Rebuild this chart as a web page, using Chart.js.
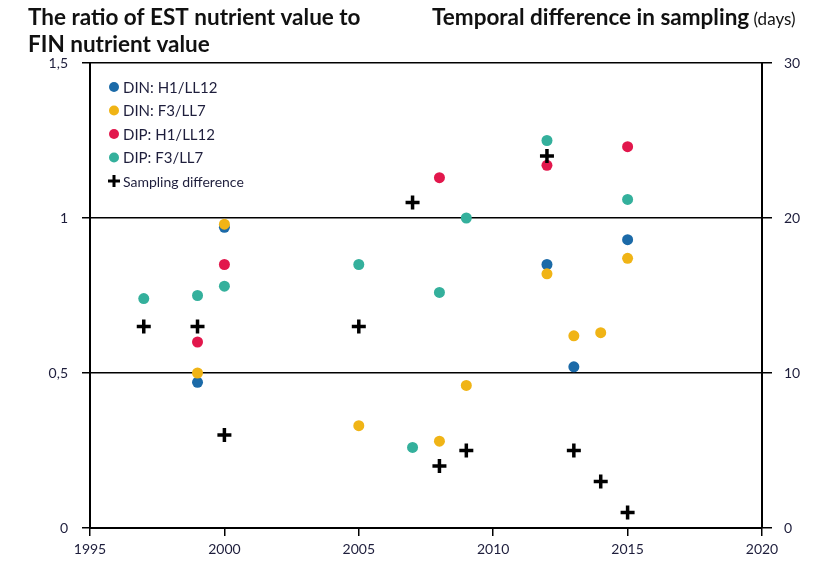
<!DOCTYPE html>
<html>
<head>
<meta charset="utf-8">
<script src="https://cdn.jsdelivr.net/npm/chart.js@4.4.1/dist/chart.umd.min.js"></script>
<style>
  html, body { margin: 0; padding: 0; background: #fff; }
  #wrap { width: 815px; height: 565px; }
</style>
</head>
<body>
<div id="wrap"><canvas id="c" width="815" height="565"></canvas></div>
<script>
// Ratio of EST to FIN nutrient values by year (left axis)
const dinH1Years = [1999, 2000, 2012, 2013, 2015];
const dinH1 = [0.47, 0.97, 0.85, 0.52, 0.93];

const dinF3Years = [1999, 2000, 2005, 2008, 2009, 2012, 2013, 2014, 2015];
const dinF3 = [0.50, 0.98, 0.33, 0.28, 0.46, 0.82, 0.62, 0.63, 0.87];

const dipH1Years = [1999, 2000, 2008, 2012, 2015];
const dipH1 = [0.60, 0.85, 1.13, 1.17, 1.23];

const dipF3Years = [1997, 1999, 2000, 2005, 2007, 2008, 2009, 2012, 2015];
const dipF3 = [0.74, 0.75, 0.78, 0.85, 0.26, 0.76, 1.00, 1.25, 1.06];

// Temporal difference in sampling, days (right axis)
const samplingYears = [1997, 1999, 2000, 2005, 2007, 2008, 2009, 2012, 2013, 2014, 2015];
const samplingDays = [13, 13, 6, 13, 21, 4, 5, 24, 5, 3, 1];

const seriesLabels = ['DIN: H1/LL12', 'DIN: F3/LL7', 'DIP: H1/LL12', 'DIP: F3/LL7', 'Sampling difference'];
const leftTitle = ['The ratio of EST nutrient value to', 'FIN nutrient value'];
const rightTitle = 'Temporal difference in sampling';
const rightUnit = ' (days)';

const FONT = "Lato, 'Open Sans', sans-serif";
const INK = '#1e1e3c';

const pts = (xs, ys) => xs.map((x, i) => ({ x: x, y: ys[i] }));

function dotSet(label, xs, ys, color, order) {
  return {
    label: label,
    data: pts(xs, ys),
    yAxisID: 'y',
    pointStyle: 'circle',
    pointRadius: 5.5,
    pointHoverRadius: 5.5,
    backgroundColor: color,
    borderColor: color,
    borderWidth: 0,
    order: order
  };
}

const datasets = [
  dotSet(seriesLabels[0], dinH1Years, dinH1, '#1b6aa8', 2),
  dotSet(seriesLabels[1], dinF3Years, dinF3, '#f0b416', 1),
  dotSet(seriesLabels[2], dipH1Years, dipH1, '#e2174c', 3),
  dotSet(seriesLabels[3], dipF3Years, dipF3, '#34b09c', 4),
  {
    label: seriesLabels[4],
    data: pts(samplingYears, samplingDays),
    yAxisID: 'y1',
    pointStyle: 'cross',
    pointRadius: 7,
    pointHoverRadius: 7,
    borderColor: '#000',
    backgroundColor: '#000',
    borderWidth: 3.5,
    order: 0
  }
];

// Headings above the plot
const titlesPlugin = {
  id: 'titles',
  afterDraw(chart) {
    const ctx = chart.ctx;
    ctx.save();
    ctx.fillStyle = '#111';
    ctx.textBaseline = 'alphabetic';
    ctx.textAlign = 'left';
    ctx.font = `bold 22.5px ${FONT}`;
    ctx.fillText(leftTitle[0], 28, 25);
    ctx.fillText(leftTitle[1], 28, 52);
    ctx.fillText(rightTitle, 432, 25);
    const w = ctx.measureText(rightTitle).width;
    ctx.font = `17px ${FONT}`;
    ctx.fillText(rightUnit, 432 + w, 25);
    ctx.restore();
  }
};

// Legend box drawn inside the upper-left of the plot
const innerLegend = {
  id: 'innerLegend',
  afterDraw(chart) {
    const ctx = chart.ctx;
    const x0 = 114, y0 = 87, dy = 23.5;
    ctx.save();
    chart.data.datasets.forEach((ds, i) => {
      const y = y0 + i * dy;
      if (ds.pointStyle === 'cross') {
        ctx.strokeStyle = '#000';
        ctx.lineWidth = 3;
        ctx.beginPath();
        ctx.moveTo(x0 - 6, y); ctx.lineTo(x0 + 6, y);
        ctx.moveTo(x0, y - 6); ctx.lineTo(x0, y + 6);
        ctx.stroke();
        ctx.font = `14px ${FONT}`;
      } else {
        ctx.fillStyle = ds.backgroundColor;
        ctx.beginPath();
        ctx.arc(x0, y, 5, 0, Math.PI * 2);
        ctx.fill();
        ctx.font = `15px ${FONT}`;
      }
      ctx.fillStyle = INK;
      ctx.textBaseline = 'middle';
      ctx.textAlign = 'left';
      ctx.fillText(ds.label, x0 + 9, y + 1);
    });
    ctx.restore();
  }
};

new Chart(document.getElementById('c'), {
  type: 'scatter',
  data: { datasets: datasets },
  plugins: [titlesPlugin, innerLegend],
  options: {
    responsive: false,
    animation: false,
    events: [],
    layout: { padding: { top: 63, left: 0, right: 0, bottom: 0 } },
    plugins: {
      legend: { display: false },
      tooltip: { enabled: false }
    },
    scales: {
      x: {
        type: 'linear',
        min: 1995,
        max: 2020,
        afterFit(s) { s.height = 37; },
        ticks: {
          stepSize: 5,
          color: INK,
          font: { family: FONT, size: 14 },
          padding: 5,
          callback: v => String(v)
        },
        grid: {
          drawOnChartArea: false,
          drawTicks: true,
          tickLength: 8,
          color: '#000',
          lineWidth: 1.5
        },
        border: { display: true, color: '#000', width: 2 }
      },
      y: {
        position: 'left',
        min: 0,
        max: 1.5,
        afterFit(s) { s.width = 90; },
        ticks: {
          stepSize: 0.5,
          color: INK,
          font: { family: FONT, size: 14 },
          padding: 14,
          callback: v => String(v).replace('.', ',')
        },
        grid: {
          drawOnChartArea: true,
          drawTicks: true,
          tickLength: 8,
          color: '#000',
          lineWidth: 1.5
        },
        border: { display: true, color: '#000', width: 2 }
      },
      y1: {
        position: 'right',
        min: 0,
        max: 30,
        afterFit(s) { s.width = 53; },
        ticks: {
          stepSize: 10,
          color: INK,
          font: { family: FONT, size: 14 },
          padding: 12
        },
        grid: {
          drawOnChartArea: false,
          drawTicks: true,
          tickLength: 10,
          color: '#000',
          lineWidth: 1.5
        },
        border: { display: true, color: '#000', width: 2 }
      }
    }
  }
});
</script>
</body>
</html>
